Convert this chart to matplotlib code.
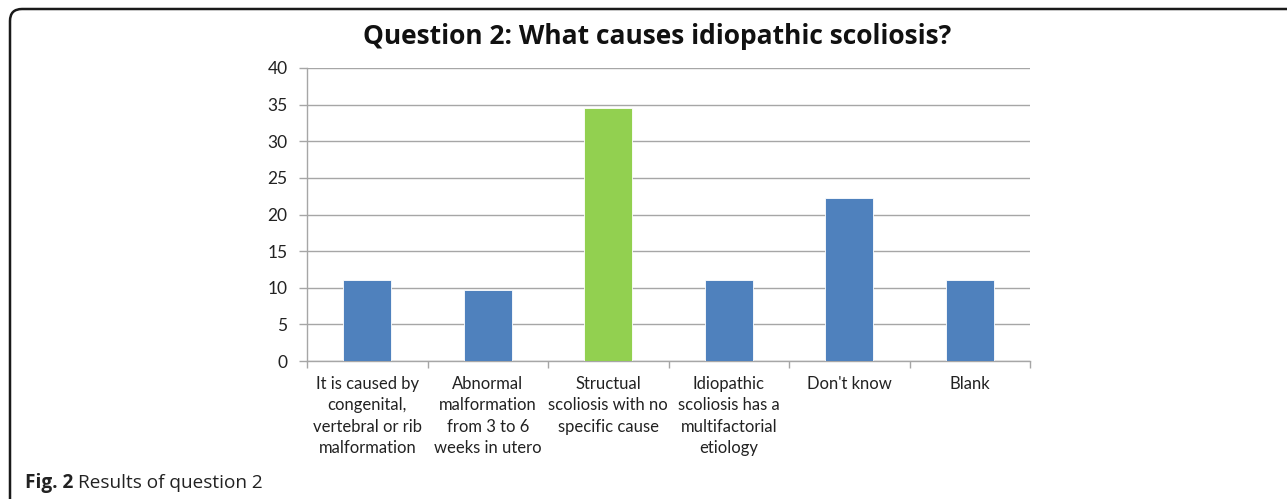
import matplotlib
matplotlib.use("Agg")
import matplotlib.pyplot as plt
from matplotlib.patches import FancyBboxPatch
import numpy as np

categories = [
    "It is caused by\ncongenital,\nvertebral or rib\nmalformation",
    "Abnormal\nmalformation\nfrom 3 to 6\nweeks in utero",
    "Structual\nscoliosis with no\nspecific cause",
    "Idiopathic\nscoliosis has a\nmultifactorial\netiology",
    "Don't know",
    "Blank",
]
values = [11.1, 9.7, 34.5, 11.1, 22.2, 11.1]
bar_colors = ["#4F81BD", "#4F81BD", "#92D050", "#4F81BD", "#4F81BD", "#4F81BD"]
yticks = [0, 5, 10, 15, 20, 25, 30, 35, 40]
title = "Question 2: What causes idiopathic scoliosis?"

W, H = 1287, 499
fig = plt.figure(figsize=(W / 100, H / 100), dpi=100)
fig.patch.set_facecolor("white")

ax = fig.add_axes([307 / W, 1 - 361 / H, (1030 - 307) / W, (361 - 68) / H])
x = np.arange(len(categories))
ax.bar(x, values, width=0.40, color=bar_colors, edgecolor="white", linewidth=0.6, zorder=3)

ax.set_xlim(-0.5, len(categories) - 0.5)
ax.set_ylim(0, 40)
ax.set_yticks(yticks)
ax.set_yticklabels([str(t) for t in yticks], fontsize=12.5, family="Lato", color="#222222")
ax.yaxis.grid(True, color="#a6a6a6", linewidth=1.0, zorder=0)
ax.set_axisbelow(True)

ax.set_xticks(x)
ax.set_xticklabels(categories, fontsize=12, family="Lato", color="#222222", linespacing=1.4, va="top")
ax.tick_params(axis="x", which="major", length=0, pad=11)
ax.set_xticks(np.arange(-0.5, len(categories)), minor=True)
ax.tick_params(axis="x", which="minor", length=5, color="#a6a6a6", width=1)
ax.tick_params(axis="y", length=6, color="#a6a6a6", width=1, pad=8)

for s in ["top", "right"]:
    ax.spines[s].set_visible(False)
for s in ["left", "bottom"]:
    ax.spines[s].set_color("#a6a6a6")
    ax.spines[s].set_linewidth(1.0)

fig.text(657 / W, 1 - 37 / H, title, ha="center", va="center", fontsize=19,
         fontweight="bold", family="Open Sans", color="#111111")

# caption
cap1 = fig.text(25 / W, 1 - 483 / H, "Fig. 2", ha="left", va="center", fontsize=13.7,
                fontweight="bold", family="Open Sans", color="#222222")
fig.canvas.draw()
bb = cap1.get_window_extent()
fig.text((bb.x1 + 5) / W, 1 - 483 / H, "Results of question 2", ha="left", va="center",
         fontsize=13.7, family="Open Sans", color="#222222")

# rounded border
border = FancyBboxPatch((10, -40), 1320, 490 + 40, boxstyle="round,pad=0,rounding_size=12",
                        transform=None, facecolor="none", edgecolor="#1a1a1a", linewidth=1.8)
fig.patches.append(border)

fig.savefig("out.png", dpi=100)
